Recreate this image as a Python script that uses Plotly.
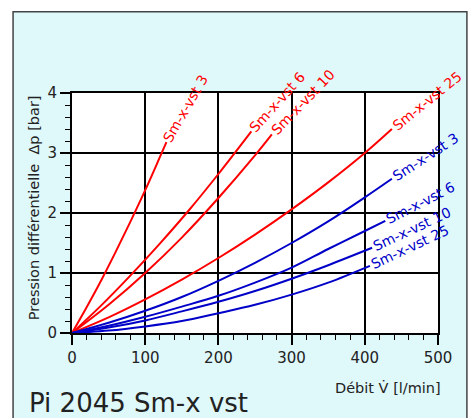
import plotly.graph_objects as go
import math

# ---- data ----
q_red3 = [0, 20, 40, 60, 80, 100, 120, 129]
dp_red3 = [0, 0.43, 0.88, 1.36, 1.86, 2.38, 2.93, 3.18]

q_red6 = [0, 40, 80, 120, 160, 200, 245]
dp_red6 = [0, 0.46, 0.96, 1.49, 2.05, 2.65, 3.36]

q_red10 = [0, 50, 100, 150, 200, 250, 273]
dp_red10 = [0, 0.47, 1.0, 1.59, 2.25, 2.96, 3.31]

q_red25 = [0, 50, 100, 150, 200, 250, 300, 350, 400, 437]
dp_red25 = [0, 0.26, 0.56, 0.89, 1.25, 1.64, 2.06, 2.51, 3.0, 3.40]

q_blue3 = [0, 50, 100, 150, 200, 250, 300, 350, 400, 437]
dp_blue3 = [0, 0.17, 0.37, 0.60, 0.87, 1.17, 1.50, 1.86, 2.26, 2.57]

q_blue6 = [0, 50, 100, 150, 200, 250, 300, 350, 400, 428]
dp_blue6 = [0, 0.12, 0.27, 0.44, 0.62, 0.84, 1.09, 1.40, 1.70, 1.87]

q_blue10 = [0, 50, 100, 150, 200, 250, 300, 350, 410]
dp_blue10 = [0, 0.09, 0.21, 0.36, 0.52, 0.70, 0.905, 1.13, 1.42]

q_blue25 = [0, 50, 100, 150, 200, 250, 300, 350, 407]
dp_blue25 = [0, 0.04, 0.11, 0.20, 0.33, 0.47, 0.64, 0.84, 1.12]

labels = ["Sm-x-vst 3", "Sm-x-vst 6", "Sm-x-vst 10", "Sm-x-vst 25",
          "Sm-x-vst 3", "Sm-x-vst 6", "Sm-x-vst 10", "Sm-x-vst 25"]

x_ticks = [0, 100, 200, 300, 400, 500]
y_ticks = [0, 1, 2, 3, 4]

series = [
    (q_red3, dp_red3, "red", 60, 39),
    (q_red6, dp_red6, "red", 48, 39),
    (q_red10, dp_red10, "red", 46, 45),
    (q_red25, dp_red25, "red", 39, 45),
    (q_blue3, dp_blue3, "blue", 33, 40),
    (q_blue6, dp_blue6, "blue", 27, 39),
    (q_blue10, dp_blue10, "blue", 25, 44),
    (q_blue25, dp_blue25, "blue", 25, 44),
]
colors = {"red": "#ff0000", "blue": "#0000c8"}
FONT = "DejaVu Sans, Verdana, sans-serif"

fig = go.Figure()
annotations = []
for (qs, dps, c, ang, half), lab in zip(series, labels):
    fig.add_trace(go.Scatter(x=qs, y=dps, mode="lines",
                             line=dict(color=colors[c], width=2, shape="spline"),
                             hoverinfo="skip", showlegend=False))
    r = math.radians(ang)
    annotations.append(dict(
        x=qs[-1], y=dps[-1], xref="x", yref="y", text=lab, showarrow=False,
        textangle=-ang, xanchor="center", yanchor="middle",
        xshift=half * math.cos(r), yshift=half * math.sin(r),
        font=dict(family=FONT, size=14, color=colors[c])))

annotations += [
    dict(text="Pression différentielle  Δp [bar]", xref="paper", yref="paper",
         x=-0.104, y=0.524, textangle=-90, showarrow=False,
         xanchor="center", yanchor="middle",
         font=dict(family=FONT, size=14.5, color="#222")),
    dict(text="Débit V\u0307 [l/min]", xref="paper", yref="paper",
         x=1.014, y=-0.228, showarrow=False, xanchor="right", yanchor="middle",
         font=dict(family=FONT, size=14.5, color="#222")),
    dict(text="Pi 2045 Sm-x vst", xref="paper", yref="paper",
         x=-0.123, y=-0.29, showarrow=False, xanchor="left", yanchor="middle",
         font=dict(family=FONT, size=26, color="#222")),
]

shapes = [
    dict(type="rect", xref="paper", yref="paper", x0=-0.161, x1=1.079,
         y0=-0.6, y1=1.339, fillcolor="#dff8fa",
         line=dict(color="#444", width=1.5), layer="below"),
    dict(type="rect", xref="paper", yref="paper", x0=0, x1=1, y0=0, y1=1,
         fillcolor="white", line=dict(width=0), layer="below"),
]

axis_common = dict(
    showgrid=True, gridcolor="black", gridwidth=2,
    showline=True, linecolor="black", linewidth=2, mirror=True,
    ticks="outside", ticklen=10, tickwidth=1.5, tickcolor="black",
    tickfont=dict(family=FONT, size=15, color="#222"),
    zeroline=False, fixedrange=True,
)

fig.update_layout(
    width=473, height=418,
    margin=dict(l=72, r=35, t=93, b=85),
    paper_bgcolor="white", plot_bgcolor="white",
    xaxis=dict(range=[0, 500], tickvals=x_ticks,
               minor=dict(dtick=20, ticks="outside", ticklen=5, tickwidth=1.2,
                          tickcolor="black", showgrid=False),
               **axis_common),
    yaxis=dict(range=[0, 4], tickvals=y_ticks,
               minor=dict(dtick=0.2, ticks="outside", ticklen=5, tickwidth=1.2,
                          tickcolor="black", showgrid=False),
               **axis_common),
    annotations=annotations,
    shapes=shapes,
)

fig.write_html("out.html")
